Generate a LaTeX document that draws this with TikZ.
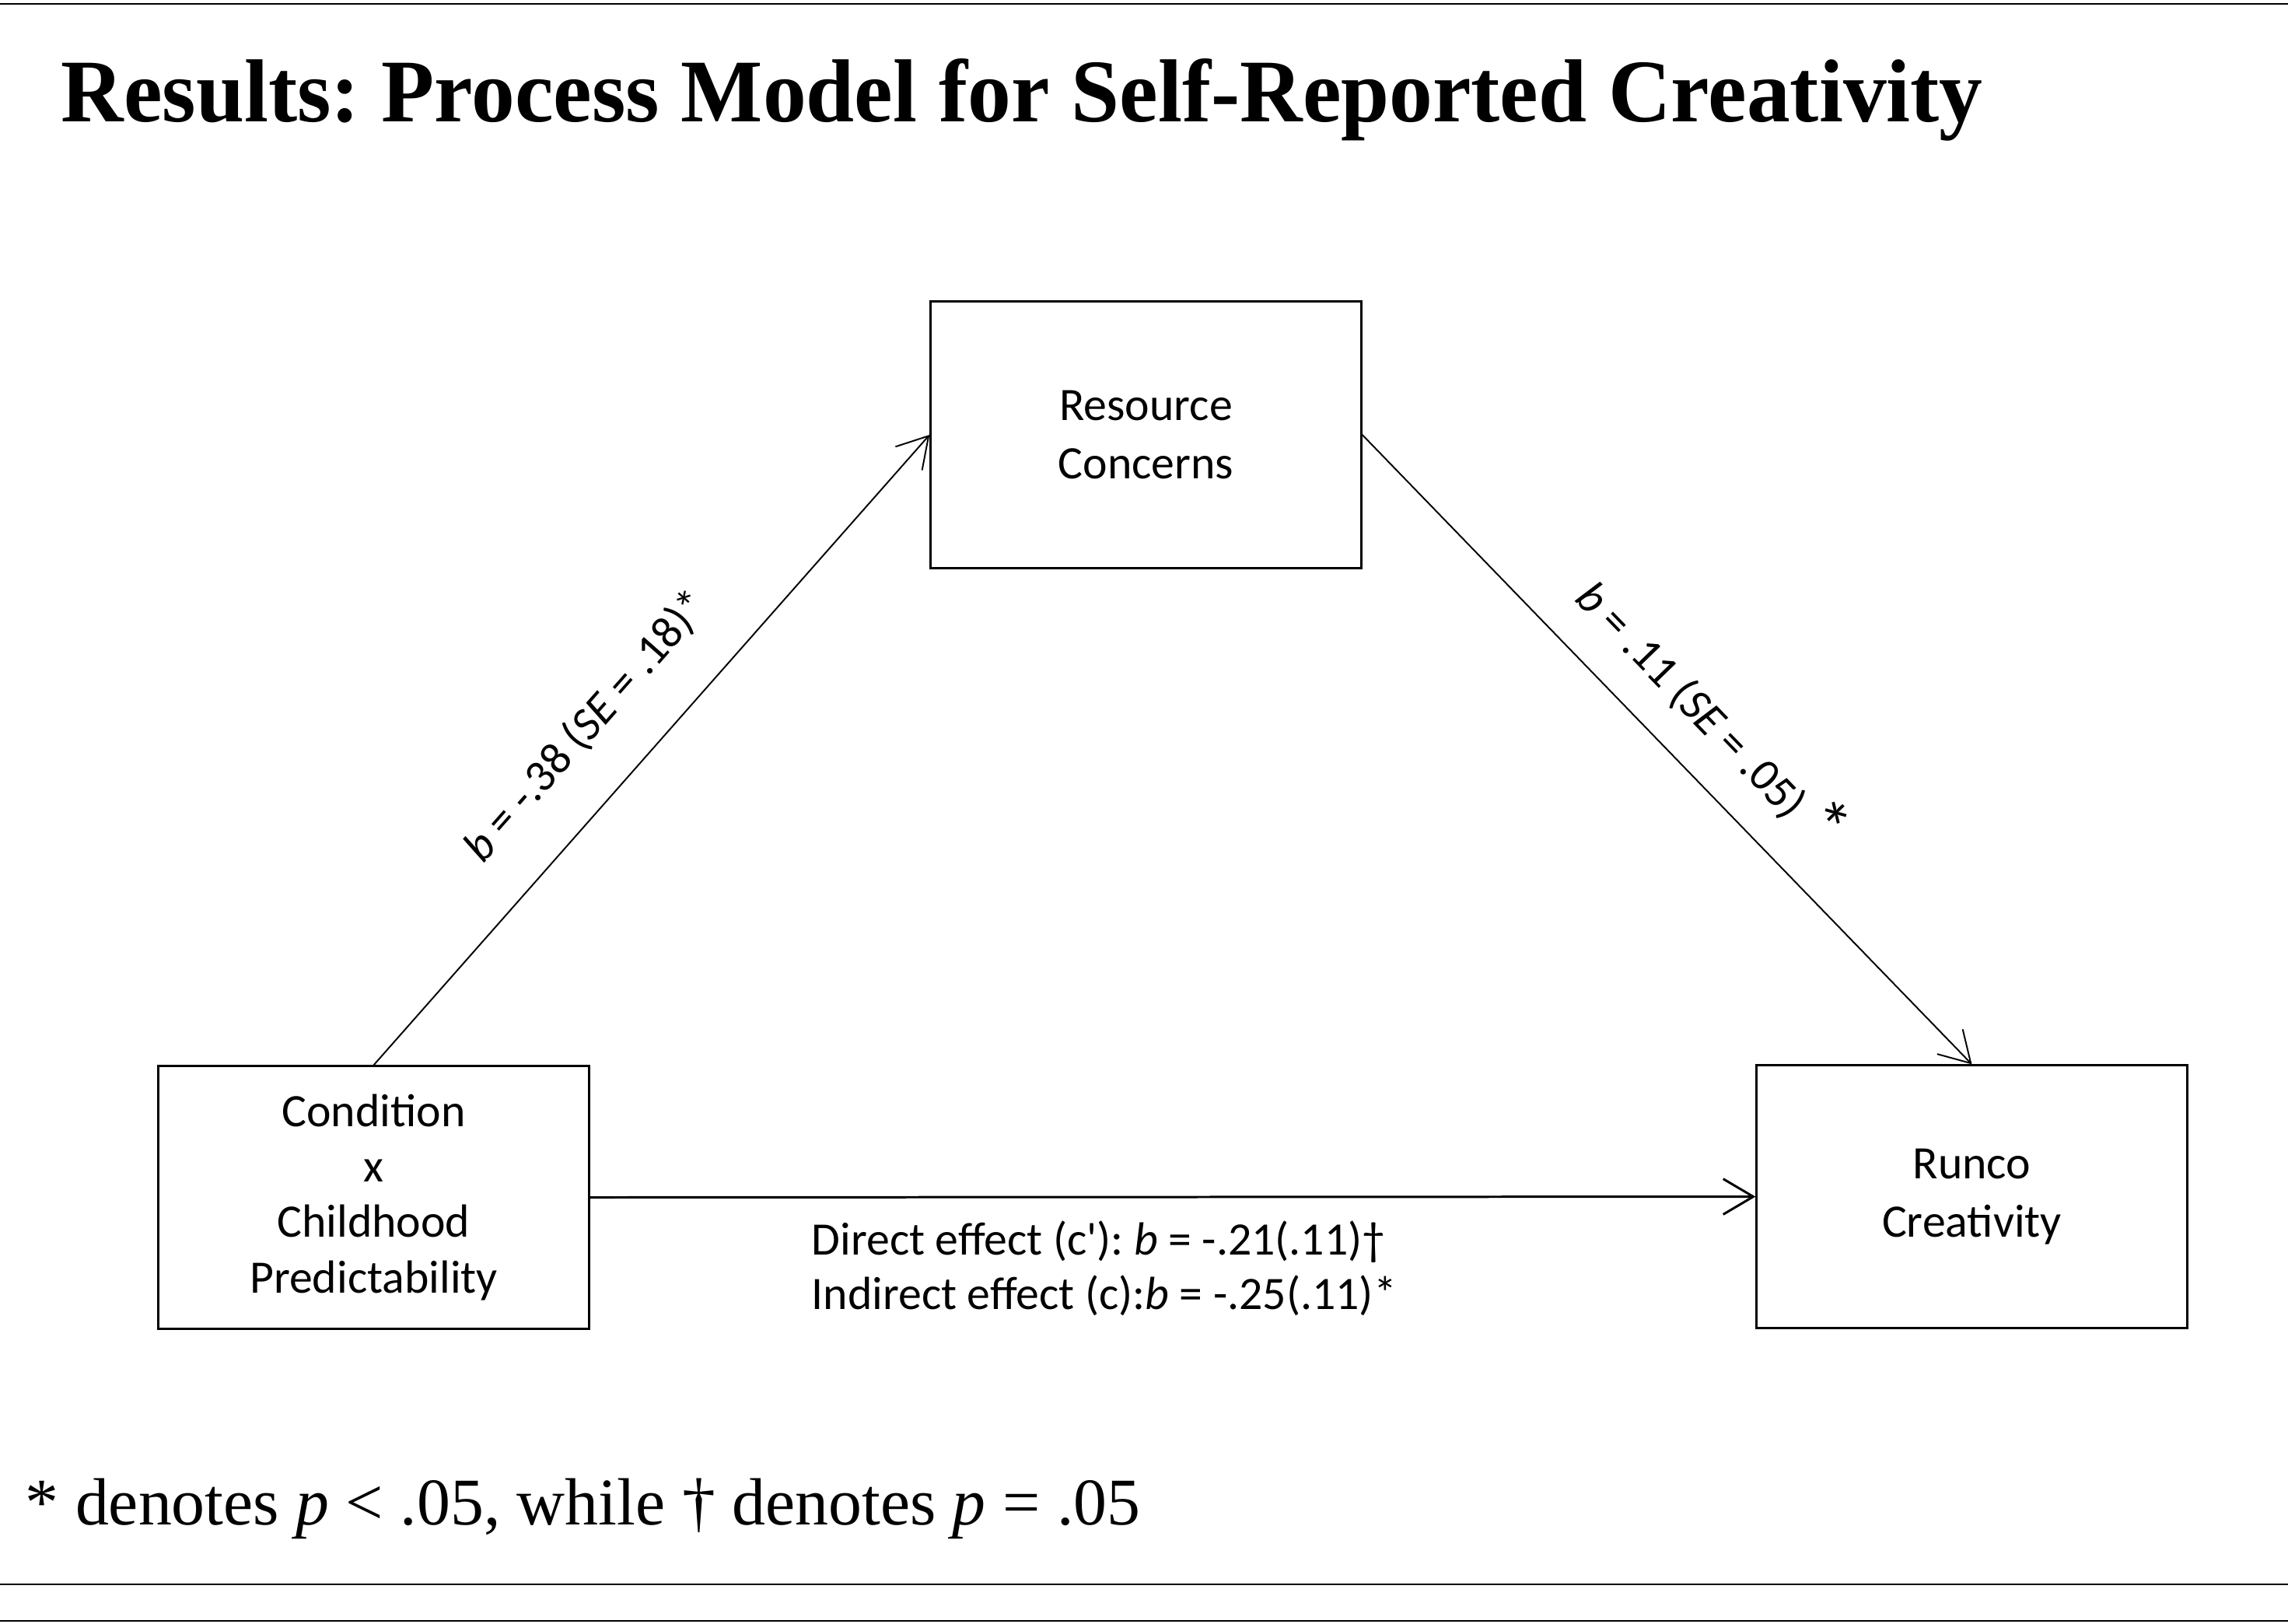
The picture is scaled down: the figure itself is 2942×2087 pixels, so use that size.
\documentclass[tikz,border=0pt]{standalone}
\usepackage{fontspec}
\setmainfont{Liberation Serif}
\newfontfamily\titlefont{Liberation Serif}[FakeStretch=0.97]
\newfontfamily\carlito{Carlito}
\usetikzlibrary{arrows.meta}
\frenchspacing
\begin{document}
\begin{tikzpicture}[x=0.01cm,y=-0.01cm,
  box/.style={draw, line width=0.03cm, minimum width=5.53cm, inner sep=0pt, align=center,
    font=\carlito\fontsize{17pt}{20.2pt}\selectfont},
  link/.style={-{Straight Barb[length=11pt,width=13pt]}, line width=0.55pt},
  hrule/.style={line width=0.7pt},
  lbl/.style={font=\carlito\fontsize{16.7pt}{20pt}\selectfont, inner sep=0pt},
  plain/.style={anchor=base west, inner sep=0pt}
]
\useasboundingbox (0,0) rectangle (2942,2087);
% rules
\coordinate (t1) at (0,5);    \coordinate (t2) at (2942,5);
\coordinate (b1) at (0,2037); \coordinate (b2) at (2942,2037);
\coordinate (c1) at (0,2084); \coordinate (c2) at (2942,2084);
\draw[hrule] (t1) -- (t2);
\draw[hrule] (b1) -- (b2);
\draw[hrule] (c1) -- (c2);
% title
\node[plain, font=\titlefont\bfseries\fontsize{32.7pt}{36pt}\selectfont] (title) at (78,156)
  {Results: Process Model for Self-Reported Creativity};
% boxes
\node[box, minimum height=3.37cm] (cond) at (480.5,1539.5)
  {Condition\\x\\Childhood\\Predictability};
\node[box, minimum height=3.42cm, font=\carlito\fontsize{17pt}{21.3pt}\selectfont] (res) at (1473.5,559)
  {Resource\\Concerns};
\node[box, minimum height=3.37cm, font=\carlito\fontsize{17pt}{21.3pt}\selectfont] (runco) at (2535.5,1538.5)
  {Runco\\Creativity};
% connectors
\draw[link] (cond.north) -- node[lbl, sloped, pos=0.47, above=16pt] (l1)
  {\textit{b} = -.38 (\textit{SE} = .18)*} (res.west);
\draw[link] (res.east) -- node[lbl, sloped, pos=0.505, above=11pt] (l2)
  {\textit{b} = .11 (\textit{SE} = .05) {\fontsize{26pt}{26pt}\selectfont *}} (runco.north);
\draw[link, line width=0.85pt] (cond.east) -- (runco.west);
% effect labels
\node[plain, lbl, font=\carlito\fontsize{17pt}{20pt}\selectfont] (eff1) at (1043,1613)
  {Direct effect (c\textquotesingle): \textit{b} = -.21(.11)†};
\node[plain, lbl, font=\carlito\fontsize{17pt}{20pt}\selectfont] (eff2) at (1043,1683)
  {Indirect effect (c):\textit{b} = -.25(.11)*};
% footnote
\node[plain, font=\fontsize{24.4pt}{28pt}\selectfont] (note) at (32,1960)
  {* denotes \textit{p} < .05, while † denotes \textit{p} = .05};
\end{tikzpicture}
\end{document}
